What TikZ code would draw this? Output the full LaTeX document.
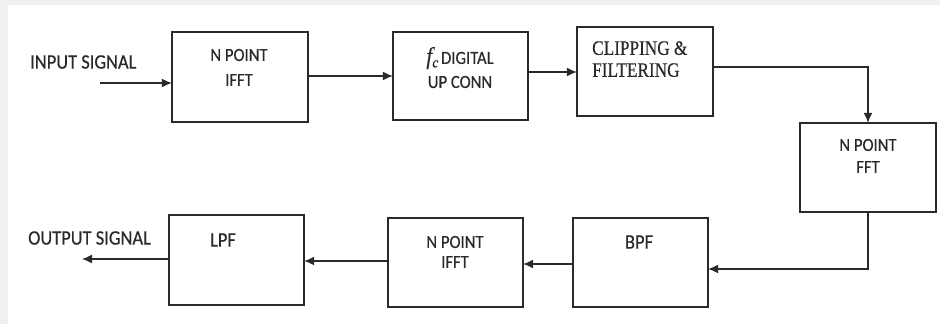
\documentclass[tikz,border=0pt]{standalone}
\usepackage{fontspec}
\setmainfont{Carlito}[FakeBold=0.5]
\newfontfamily\serifface{Liberation Serif}[FakeBold=0.4]
\usetikzlibrary{arrows.meta}
\definecolor{bggray}{HTML}{EEF0F2}
\definecolor{ink}{HTML}{2A2A2A}
\newcommand{\nrw}[1]{\scalebox{0.9}[1]{#1}}
\begin{document}
\begin{tikzpicture}[x=1pt,y=-1pt,
  blk/.style={draw=ink,line width=1.3pt,fill=white},
  lbl/.style={font=\fontsize{18.5}{20}\selectfont,text=ink,inner sep=0pt},
  sig/.style={font=\fontsize{20.5}{22}\selectfont,text=ink,inner sep=0pt},
  conn/.style={draw=ink,line width=1.3pt,-{Latex[length=10pt,width=9pt]}}]
\fill[bggray] (0,0) rectangle (940,324);
\fill[white] (8,5) rectangle (940,324);
\useasboundingbox (0,0) rectangle (940,324);
% boxes
\path[blk] (172,32) rectangle (308,122);
\path[blk] (393,32) rectangle (528,120);
\path[blk] (577,27) rectangle (713,116);
\path[blk] (800,123) rectangle (936,212);
\path[blk] (573,218) rectangle (708,307);
\path[blk] (388,218) rectangle (523,307);
\path[blk] (169,215) rectangle (304,305);
% named anchors
\node[minimum width=136pt,minimum height=90pt,inner sep=0pt] (n1) at (240,77) {};
\node[minimum width=135pt,minimum height=88pt,inner sep=0pt] (n2) at (460.5,76) {};
\node[minimum width=136pt,minimum height=89pt,inner sep=0pt] (n3) at (645,71.5) {};
\node[minimum width=136pt,minimum height=89pt,inner sep=0pt] (n4) at (868,167.5) {};
\node[minimum width=135pt,minimum height=89pt,inner sep=0pt] (n5) at (640.5,262.5) {};
\node[minimum width=135pt,minimum height=89pt,inner sep=0pt] (n6) at (455.5,262.5) {};
\node[minimum width=135pt,minimum height=90pt,inner sep=0pt] (n7) at (236.5,260) {};
% texts
\node[lbl] (t1a) at (239,55) {\nrw{N POINT}};
\node[lbl] (t1b) at (239,80) {\nrw{IFFT}};
\node[lbl] (t2a) at (460,58) {\nrw{{\serifface\itshape\fontsize{24}{24}\selectfont f}\raisebox{-3.5pt}{\serifface\itshape\fontsize{15}{15}\selectfont c}\,DIGITAL}};
\node[lbl] (t2b) at (460,82) {\nrw{UP CONN}};
\node[font=\serifface\fontsize{20.5}{23}\selectfont,text=ink,inner sep=0pt,anchor=north west] (t3a) at (592,41) {\scalebox{0.84}[1]{CLIPPING \&}};
\node[font=\serifface\fontsize{20.5}{23}\selectfont,text=ink,inner sep=0pt,anchor=north west] (t3b) at (592,63) {\scalebox{0.84}[1]{FILTERING}};
\node[lbl] (t4a) at (868,145) {\nrw{N POINT}};
\node[lbl] (t4b) at (868,167) {\nrw{FFT}};
\node[lbl,font=\fontsize{20.5}{22}\selectfont] (t5) at (639,242) {\nrw{BPF}};
\node[lbl] (t6a) at (455,242) {\nrw{N POINT}};
\node[lbl] (t6b) at (455,262) {\nrw{IFFT}};
\node[lbl,font=\fontsize{20.5}{22}\selectfont] (t7) at (223,240) {\nrw{LPF}};
\node[sig,anchor=west] (in) at (30,62) {\nrw{INPUT SIGNAL}};
\node[sig,anchor=west] (out) at (28,238) {\nrw{OUTPUT SIGNAL}};
\coordinate (src) at (100,83);
\coordinate (dst) at (82,259);
% connectors
\draw[conn] (src) -- (n1.west |- src);
\draw[conn] (n1.east |- 0,76) -- (n2.west |- 0,76);
\draw[conn] (n2.east |- 0,72) -- (n3.west |- 0,72);
\draw[conn] (n3.east |- 0,67) -| (n4.north);
\draw[conn] (n4.south) |- (n5.east |- 0,269);
\draw[conn] (n5.west |- 0,264) -- (n6.east |- 0,264);
\draw[conn] (n6.west |- 0,261) -- (n7.east |- 0,261);
\draw[conn] (n7.west |- 0,259) -- (dst);
\end{tikzpicture}
\end{document}
